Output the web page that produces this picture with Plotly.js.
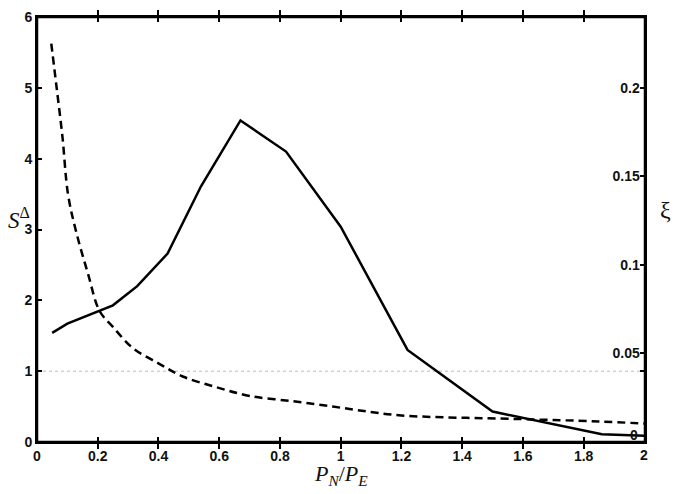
<!DOCTYPE html>
<html>
<head>
<meta charset="utf-8">
<script src="https://cdn.plot.ly/plotly-3.0.1.min.js"></script>
<style>
  html, body { margin: 0; padding: 0; background: #fff; }
  #chart { width: 685px; height: 494px; }
</style>
</head>
<body>
<div id="chart"></div>
<script>
// S^Delta (solid, left axis)
var sX = [0.05, 0.1, 0.25, 0.33, 0.43, 0.54, 0.67, 0.82, 1.0, 1.22, 1.5, 1.86, 2.0];
var sY = [1.54, 1.67, 1.93, 2.20, 2.66, 3.61, 4.54, 4.10, 3.04, 1.30, 0.43, 0.11, 0.09];

// xi (dashed, right axis)
var xiX = [0.047, 0.064, 0.084, 0.102, 0.13, 0.168, 0.206, 0.25, 0.316, 0.404, 0.48, 0.59, 0.70, 0.843, 0.974, 1.056, 1.2, 1.58, 1.85, 2.0];
var xiY = [0.225, 0.201, 0.172, 0.140, 0.118, 0.095, 0.074, 0.065, 0.053, 0.044, 0.037, 0.031, 0.026, 0.023, 0.020, 0.018, 0.015, 0.013, 0.0116, 0.0104];

// reference level
var refX = [0, 2];
var refY = [1, 1];

var xTicks = [0, 0.2, 0.4, 0.6, 0.8, 1, 1.2, 1.4, 1.6, 1.8, 2];
var xText = ['0', '0.2', '0.4', '0.6', '0.8', '1', '1.2', '1.4', '1.6', '1.8', '2'];
var y2Ticks = [0, 0.04, 0.05, 0.1, 0.15, 0.2];
var y2Text = ['0', ' ', '0.05', '0.1', '0.15', '0.2'];

var tickFont = {family: 'Liberation Sans, Arial', size: 14, color: '#111', weight: 'bold'};

var traces = [
  {
    x: refX, y: refY, type: 'scatter', mode: 'lines',
    line: {color: '#bbb', width: 1, dash: 'dot'},
    hoverinfo: 'skip', showlegend: false
  },
  {
    x: sX, y: sY, type: 'scatter', mode: 'lines',
    line: {color: '#000', width: 2.5},
    name: 'S'
  },
  {
    x: xiX, y: xiY, type: 'scatter', mode: 'lines', yaxis: 'y2',
    line: {color: '#000', width: 2.5, dash: '8px,5px', shape: 'spline'},
    name: 'xi'
  }
];

var layout = {
  width: 685,
  height: 494,
  margin: {l: 37, r: 40, t: 17, b: 52},
  paper_bgcolor: '#fff',
  plot_bgcolor: '#fff',
  showlegend: false,
  xaxis: {
    range: [0, 2.002],
    tickmode: 'array', tickvals: xTicks, ticktext: xText,
    ticks: 'inside', ticklen: 5, tickwidth: 2, tickcolor: '#000',
    showline: true, linecolor: '#000', linewidth: 2,
    mirror: 'allticks',
    showgrid: false, zeroline: false,
    tickfont: tickFont
  },
  yaxis: {
    range: [0, 6],
    dtick: 1,
    ticks: 'inside', ticklen: 5, tickwidth: 2, tickcolor: '#000',
    showline: true, linecolor: '#000', linewidth: 2,
    showgrid: false, zeroline: false,
    tickfont: tickFont
  },
  yaxis2: {
    overlaying: 'y', side: 'right',
    range: [0, 0.24],
    tickmode: 'array', tickvals: y2Ticks, ticktext: y2Text,
    ticks: 'inside', ticklen: 5, tickwidth: 2, tickcolor: '#000',
    ticklabelposition: 'inside',
    showline: true, linecolor: '#000', linewidth: 2,
    showgrid: false, zeroline: false,
    tickfont: tickFont
  },
  shapes: [
    {type: 'rect', xref: 'paper', yref: 'paper', x0: 0, x1: 1, y0: 0, y1: 1,
     line: {color: '#000', width: 2.5}, layer: 'above'}
  ],
  annotations: [
    // end labels that plotly hides where the inside y2 labels meet the x axis
    {
      xref: 'x', yref: 'paper', x: 2, y: 0, yshift: -3,
      xanchor: 'center', yanchor: 'top', showarrow: false,
      text: xText[xText.length - 1], font: tickFont
    },
    {
      xref: 'paper', yref: 'y2', x: 1, y: 0, xshift: -5, yshift: -3,
      xanchor: 'right', yanchor: 'bottom', showarrow: false,
      text: y2Text[0], font: tickFont, bgcolor: 'rgba(255,255,255,0)'
    },
    {
      xref: 'paper', yref: 'paper', x: 0.5, y: -0.078,
      xanchor: 'center', yanchor: 'middle', showarrow: false,
      text: '<i>P</i><sub><i>N</i></sub>/<i>P</i><sub><i>E</i></sub>',
      font: {family: 'Liberation Serif, Times New Roman', size: 22, color: '#111'}
    },
    {
      xref: 'paper', yref: 'paper', x: -0.03, y: 0.527,
      xanchor: 'center', yanchor: 'middle', showarrow: false,
      text: '<i>S</i><sup>Δ</sup>',
      font: {family: 'Liberation Serif, Times New Roman', size: 23, color: '#111'}
    },
    {
      xref: 'paper', yref: 'paper', x: 1.033, y: 0.546,
      xanchor: 'center', yanchor: 'middle', showarrow: false,
      text: 'ξ',
      font: {family: 'Liberation Serif, Times New Roman', size: 24, color: '#111'}
    }
  ]
};

Plotly.newPlot('chart', traces, layout, {displayModeBar: false, staticPlot: true});
</script>
</body>
</html>
